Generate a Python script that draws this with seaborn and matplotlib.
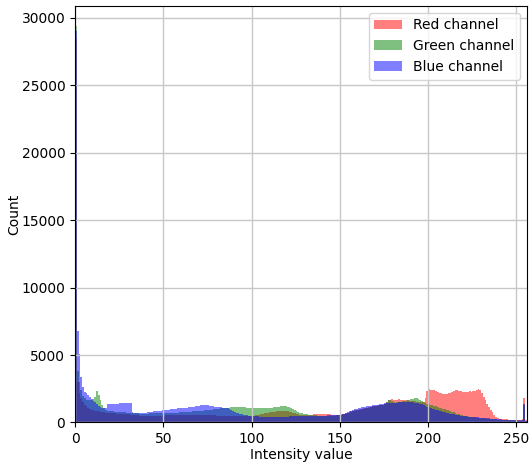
import numpy as np
import matplotlib
matplotlib.use("Agg")
import matplotlib.pyplot as plt
import seaborn as sns

# Intensity levels 0..255
levels = list(range(256))

red_counts = [
    28500, 3000, 2200, 1800, 1500, 1300, 1200, 1100, 1000, 950, 900, 880, 850, 820, 800, 780,
    760, 740, 720, 700, 690, 680, 670, 660, 650, 640, 630, 620, 610, 600, 600, 590,
    580, 560, 540, 520, 500, 490, 480, 480, 470, 470, 480, 480, 490, 490, 500, 500,
    500, 510, 510, 520, 520, 520, 530, 530, 530, 540, 540, 540, 540, 550, 550, 550,
    550, 560, 560, 560, 560, 560, 560, 550, 550, 550, 540, 540, 530, 530, 520, 520,
    510, 510, 500, 500, 490, 490, 480, 480, 470, 470, 460, 460, 460, 450, 450, 450,
    450, 450, 460, 470, 480, 500, 520, 550, 580, 610, 640, 670, 700, 730, 760, 780,
    800, 810, 820, 830, 840, 850, 860, 850, 830, 800, 760, 720, 680, 640, 610, 590,
    580, 570, 570, 570, 580, 580, 590, 600, 620, 610, 630, 620, 600, 620, 610, 600,
    600, 590, 590, 580, 580, 590, 600, 620, 650, 690, 730, 780, 830, 870, 900, 930,
    960, 990, 1020, 1050, 1080, 1110, 1140, 1170, 1200, 1220, 1250, 1270, 1290, 1310, 1330, 1400,
    1550, 1650, 1700, 1720, 1700, 1680, 1700, 1720, 1680, 1650, 1660, 1680, 1650, 1620, 1600, 1580,
    1560, 1550, 1540, 1530, 1520, 1550, 1800, 2350, 2450, 2400, 2420, 2380, 2300, 2250, 2200, 2150,
    2100, 2080, 2100, 2150, 2200, 2280, 2350, 2400, 2380, 2350, 2300, 2280, 2250, 2270, 2250, 2300,
    2280, 2320, 2350, 2400, 2450, 2380, 2200, 1900, 1650, 1400, 1150, 950, 750, 560, 420, 330,
    280, 250, 240, 230, 230, 220, 220, 210, 210, 200, 200, 190, 200, 250, 1800, 150,
]

green_counts = [
    29400, 3800, 3000, 2400, 2000, 1800, 1700, 1650, 1650, 1700, 1750, 1900, 2300, 2050, 1700, 1300,
    1050, 920, 880, 860, 840, 820, 800, 790, 780, 770, 760, 750, 750, 740, 740, 730,
    720, 700, 680, 670, 660, 650, 650, 650, 660, 660, 670, 670, 680, 680, 690, 690,
    700, 700, 700, 710, 710, 720, 720, 730, 730, 740, 740, 750, 760, 770, 780, 790,
    800, 810, 820, 830, 840, 850, 860, 870, 880, 890, 900, 910, 930, 950, 970, 990,
    1000, 1020, 1040, 1050, 1060, 1080, 1090, 1100, 1120, 1130, 1140, 1150, 1150, 1140, 1140, 1130,
    1120, 1110, 1100, 1100, 1090, 1090, 1080, 1080, 1080, 1090, 1100, 1090, 1080, 1080, 1090, 1100,
    1120, 1140, 1160, 1180, 1200, 1220, 1230, 1220, 1180, 1120, 1050, 970, 900, 830, 770, 720,
    680, 650, 630, 610, 590, 570, 550, 530, 520, 510, 500, 500, 490, 490, 490, 490,
    490, 500, 500, 510, 520, 530, 550, 580, 620, 660, 700, 740, 780, 820, 860, 890,
    920, 950, 980, 1010, 1040, 1070, 1100, 1130, 1160, 1190, 1210, 1240, 1260, 1290, 1320, 1400,
    1550, 1650, 1680, 1600, 1500, 1480, 1500, 1520, 1540, 1560, 1580, 1600, 1640, 1680, 1720, 1760,
    1800, 1790, 1760, 1700, 1620, 1520, 1450, 1400, 1370, 1330, 1300, 1250, 1200, 1150, 1100, 1060,
    1020, 980, 940, 900, 850, 800, 750, 700, 660, 620, 580, 540, 500, 480, 460, 440,
    420, 400, 390, 370, 360, 340, 330, 310, 300, 290, 280, 260, 250, 240, 230, 220,
    210, 200, 190, 180, 170, 170, 160, 160, 150, 150, 150, 140, 140, 150, 1300, 120,
]

blue_counts = [
    29000, 6800, 5100, 3400, 2600, 2250, 2150, 2050, 1900, 1750, 1600, 1500, 1400, 1250, 1150, 1100,
    1050, 1050, 1350, 1350, 1370, 1380, 1380, 1400, 1400, 1420, 1430, 1430, 1450, 1460, 1450, 1430,
    800, 700, 680, 670, 680, 690, 700, 720, 740, 760, 780, 800, 820, 840, 850, 870,
    880, 900, 910, 930, 950, 960, 980, 1000, 1010, 1030, 1040, 1050, 1060, 1080, 1100, 1110,
    1130, 1150, 1160, 1180, 1200, 1220, 1240, 1260, 1280, 1300, 1290, 1270, 1250, 1230, 1200, 1180,
    1160, 1140, 1120, 1100, 1080, 1060, 1040, 1000, 950, 880, 800, 740, 700, 650, 610, 580,
    550, 520, 500, 480, 470, 460, 450, 450, 440, 440, 440, 430, 430, 430, 430, 430,
    430, 430, 430, 430, 440, 440, 440, 440, 440, 450, 450, 450, 450, 460, 460, 460,
    460, 470, 470, 470, 480, 480, 480, 490, 490, 500, 500, 500, 510, 510, 510, 520,
    520, 520, 530, 530, 540, 550, 560, 600, 650, 700, 760, 820, 880, 940, 990, 1030,
    1060, 1090, 1120, 1150, 1180, 1200, 1220, 1250, 1270, 1290, 1310, 1330, 1350, 1370, 1390, 1410,
    1420, 1430, 1440, 1450, 1460, 1470, 1480, 1490, 1500, 1500, 1510, 1510, 1520, 1520, 1510, 1500,
    1480, 1450, 1420, 1380, 1340, 1290, 1240, 1180, 1130, 1080, 1030, 980, 940, 900, 860, 820,
    780, 750, 720, 690, 660, 630, 600, 570, 540, 520, 500, 480, 460, 450, 440, 430,
    420, 410, 400, 390, 380, 370, 350, 340, 320, 310, 300, 290, 280, 270, 260, 250,
    240, 230, 220, 210, 200, 190, 180, 170, 170, 160, 160, 150, 150, 200, 1400, 100,
]

channels = [
    ("Red channel", red_counts, "red"),
    ("Green channel", green_counts, "green"),
    ("Blue channel", blue_counts, "blue"),
]

fig = plt.figure(figsize=(5.32, 4.62), dpi=100)
ax = fig.add_axes([0.141, 0.0855, 0.8496, 0.902])

for label, counts, color in channels:
    sns.histplot(x=levels, weights=counts, bins=256, binrange=(0, 256),
                 color=color, alpha=0.5, linewidth=0, label=label, ax=ax)

ax.set_xlim(0, 256)
ax.set_xlabel("Intensity value", labelpad=1.5)
ax.set_ylabel("Count", labelpad=0)
ax.grid(True, color="#c8c8c8", linewidth=1.0)
ax.legend(loc="upper right")

fig.savefig("out.png", dpi=100)
